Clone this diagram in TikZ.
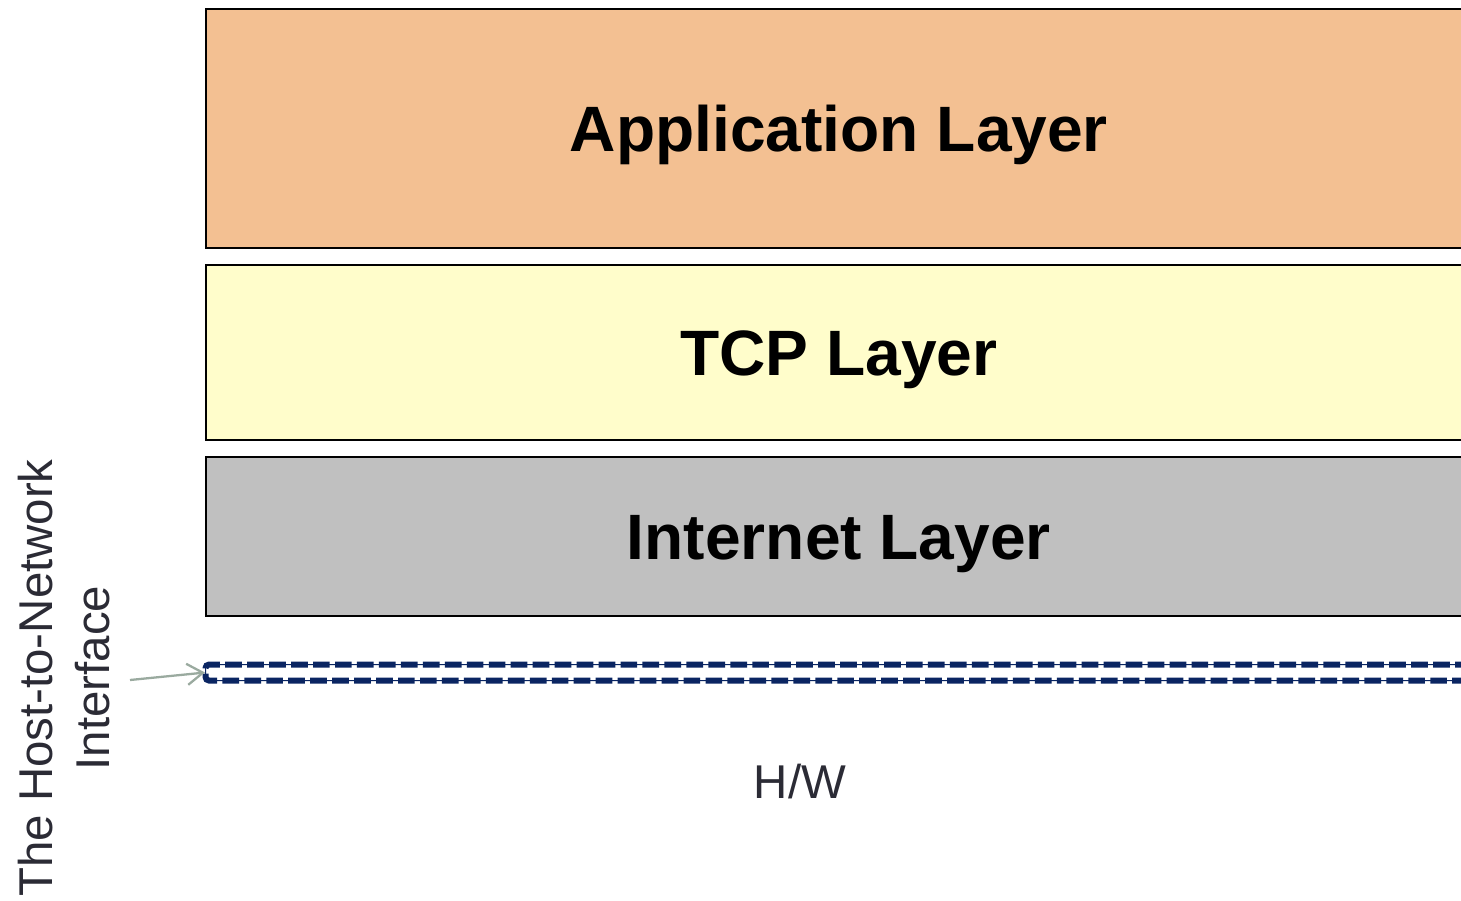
\documentclass[tikz,border=0pt]{standalone}
\usepackage{fontspec}
\setmainfont{Liberation Sans}
\usepackage{tikz}
\usetikzlibrary{positioning,arrows.meta}

\definecolor{appfill}{HTML}{F3C092}
\definecolor{tcpfill}{HTML}{FFFDCB}
\definecolor{ipfill}{HTML}{C0C0C0}
\definecolor{hninavy}{HTML}{0A2562}
\definecolor{arrowgray}{HTML}{9AAA9F}
\definecolor{textgray}{HTML}{2B2B35}

\begin{document}
\begin{tikzpicture}[
    x=0.02cm, y=-0.02cm,
    layer/.style={draw, line width=1.2pt, rectangle, anchor=north west, minimum width=25.32cm,
        font=\fontsize{36.5}{40}\selectfont\bfseries, text=black, inner sep=0pt,
        text height=26pt, text depth=0pt},
    hnibox/.style={draw=hninavy, line width=0.6pt, rectangle, rounded corners=2pt, anchor=north west,
        minimum width=25.4cm, minimum height=0.32cm, inner sep=0pt,
        postaction={draw=hninavy, line width=3.4pt, dash pattern=on 9.5pt off 3pt}},
    sidelabel/.style={rotate=90, align=center, text=textgray, font=\fontsize{27}{32}\selectfont}
]
\useasboundingbox (0,0) rectangle (1461,900);
\clip (0,0) rectangle (1461,900);

% the layers
\node[layer, fill=appfill, minimum height=4.78cm] (app) at (205,8) {Application Layer};
\node[layer, fill=tcpfill, minimum height=3.5cm] (tcp) at (205,264) {TCP Layer};
\node[layer, fill=ipfill, minimum height=3.18cm] (ip) at (205,456) {Internet Layer};

% host-to-network interface
\node[hnibox] (hni) at (205,664) {};
\node[sidelabel] (hnilabel) at (64,678) {The Host-to-Network\\Interface};
\coordinate (arrowstart) at (130,680);
\draw[arrowgray, line width=1.3pt, -{Straight Barb[length=9pt,width=12pt]}] (arrowstart) -- (hni.west);

\node[text=textgray, font=\fontsize{27}{32}\selectfont] (hw) at (800,782) {H/W};
\end{tikzpicture}
\end{document}
